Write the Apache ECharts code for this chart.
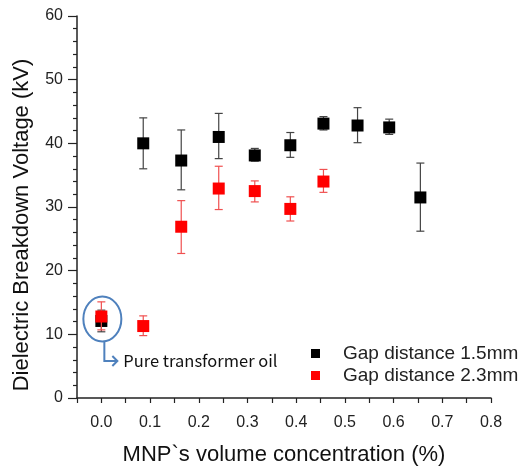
<!DOCTYPE html>
<html>
<head>
    <meta http-equiv="content-type" content="text/html;charset=utf-8" />
    <title>ECharts</title>
    <script src="https://cdn.jsdelivr.net/npm/echarts@6/dist/echarts.min.js"></script>
</head>
<body style="margin:0">
    <div id="main" style="width: 522px;height:466px;"></div>
    <script type="text/javascript">
        var myChart = echarts.init(document.getElementById('main'));

        // MNP volume concentration (%)
        var conc15 = [0.0, 0.086, 0.164, 0.241, 0.315, 0.388, 0.456, 0.526, 0.591, 0.655];
        var volt15 = [12.1, 40.0, 37.3, 41.0, 38.1, 39.7, 43.1, 42.8, 42.5, 31.5];
        var low15  = [10.4, 36.0, 32.7, 37.6, 37.2, 37.8, 42.1, 40.1, 41.4, 26.2];
        var high15 = [13.8, 44.0, 42.1, 44.7, 39.2, 41.7, 44.2, 45.6, 43.8, 36.9];

        var conc23 = [0.0, 0.086, 0.164, 0.241, 0.315, 0.388, 0.456];
        var volt23 = [12.8, 11.3, 26.9, 32.9, 32.5, 29.7, 34.0];
        var low23  = [10.7, 9.8, 22.7, 29.6, 30.8, 27.8, 32.3];
        var high23 = [15.1, 12.9, 31.0, 36.4, 34.1, 31.6, 35.9];

        var yTicks = [0, 10, 20, 30, 40, 50, 60];
        var xTicks = [0.0, 0.1, 0.2, 0.3, 0.4, 0.5, 0.6, 0.7, 0.8];

        function pts(xs, ys) {
            return xs.map(function (x, i) { return [x, ys[i]]; });
        }
        function bars(xs, lo, hi) {
            return xs.map(function (x, i) { return [x, lo[i], hi[i]]; });
        }
        function errBar(color) {
            return function (params, api) {
                var top = api.coord([api.value(0), api.value(2)]);
                var bot = api.coord([api.value(0), api.value(1)]);
                var w = 4;
                var st = { stroke: color, lineWidth: 1.2 };
                return {
                    type: 'group',
                    children: [
                        { type: 'line', shape: { x1: top[0], y1: top[1], x2: bot[0], y2: bot[1] }, style: st },
                        { type: 'line', shape: { x1: top[0] - w, y1: top[1], x2: top[0] + w, y2: top[1] }, style: st },
                        { type: 'line', shape: { x1: bot[0] - w, y1: bot[1], x2: bot[0] + w, y2: bot[1] }, style: st }
                    ]
                };
            };
        }

        var fontMain = 'Arial, "Liberation Sans", sans-serif';

        var option = {
            animation: false,
            grid: { left: 77, top: 16, right: 31, bottom: 68, outerBoundsMode: 'none' },
            legend: {
                orient: 'vertical',
                left: 306,
                top: 339,
                itemWidth: 9,
                itemHeight: 9,
                itemGap: 3,
                icon: 'rect',
                data: ['Gap distance 1.5mm', 'Gap distance 2.3mm'],
                textStyle: { fontFamily: fontMain, fontSize: 19, color: '#222', padding: [0, 0, 0, 18] }
            },
            xAxis: {
                type: 'value',
                min: -0.05,
                max: 0.8,
                interval: 0.05,
                name: 'MNP`s volume concentration (%)',
                nameLocation: 'middle',
                nameGap: 46,
                nameTextStyle: { fontFamily: fontMain, fontSize: 22, color: '#111' },
                axisLine: { show: true, onZero: false, lineStyle: { color: '#222', width: 1.5 } },
                axisTick: { show: true, inside: false, length: 5, lineStyle: { color: '#222', width: 1.2 } },
                axisLabel: {
                    margin: 17,
                    fontFamily: fontMain,
                    fontSize: 16,
                    color: '#222',
                    showMinLabel: true,
                    showMaxLabel: true,
                    formatter: function (v) {
                        for (var i = 0; i < xTicks.length; i++) {
                            if (Math.abs(v - xTicks[i]) < 1e-6) return xTicks[i].toFixed(1);
                        }
                        return '';
                    }
                },
                splitLine: { show: false }
            },
            yAxis: {
                type: 'value',
                min: yTicks[0],
                max: yTicks[yTicks.length - 1],
                interval: 10,
                name: 'Dielectric Breakdown Voltage (kV)',
                nameLocation: 'middle',
                nameGap: 44,
                nameTextStyle: { fontFamily: fontMain, fontSize: 22, color: '#111', padding: [0, 36, 0, 0] },
                axisLine: { show: true, onZero: false, lineStyle: { color: '#222', width: 1.5 } },
                axisTick: { show: true, inside: false, length: 9, lineStyle: { color: '#222', width: 1.2 } },
                minorTick: { show: true, splitNumber: 5, length: 4, lineStyle: { color: '#222', width: 1.2 } },
                axisLabel: { margin: 14, fontFamily: fontMain, fontSize: 16, color: '#222' },
                splitLine: { show: false }
            },
            series: [
                {
                    type: 'custom',
                    name: 'err15',
                    renderItem: errBar('#444'),
                    data: bars(conc15, low15, high15),
                    encode: { x: 0, y: [1, 2] },
                    z: 2
                },
                {
                    type: 'scatter',
                    name: 'Gap distance 1.5mm',
                    symbol: 'rect',
                    symbolSize: 12,
                    itemStyle: { color: '#000', opacity: 1 },
                    data: pts(conc15, volt15),
                    z: 3
                },
                {
                    type: 'custom',
                    name: 'err23',
                    renderItem: errBar('#f05050'),
                    data: bars(conc23, low23, high23),
                    encode: { x: 0, y: [1, 2] },
                    z: 4
                },
                {
                    type: 'scatter',
                    name: 'Gap distance 2.3mm',
                    symbol: 'rect',
                    symbolSize: 12,
                    itemStyle: { color: '#ff0000', opacity: 1 },
                    data: pts(conc23, volt23),
                    z: 5
                }
            ]
        };

        myChart.setOption(option);

        // annotation: circle round the pure oil points
        var c = myChart.convertToPixel({ xAxisIndex: 0, yAxisIndex: 0 }, [0, 12.4]);
        var blue = '#4f81bd';
        myChart.setOption({
            graphic: [
                { type: 'ellipse', shape: { cx: c[0] + 1, cy: c[1], rx: 19, ry: 22.5 }, style: { fill: null, stroke: blue, lineWidth: 2 }, z: 10 },
                { type: 'polyline', shape: { points: [[c[0] + 3, c[1] + 22.5], [c[0] + 3, c[1] + 42], [c[0] + 15, c[1] + 42]] }, style: { fill: null, stroke: blue, lineWidth: 2 }, z: 10 },
                { type: 'polyline', shape: { points: [[c[0] + 11, c[1] + 37], [c[0] + 16, c[1] + 42], [c[0] + 11, c[1] + 47]] }, style: { fill: null, stroke: blue, lineWidth: 2 }, z: 10 },
                { type: 'text', x: c[0] + 22, y: c[1] + 42, style: { text: 'Pure transformer oil', font: '16.5px "Noto Sans CJK KR", "Noto Sans", sans-serif', fill: '#111', verticalAlign: 'middle' }, z: 10 }
            ]
        });
    </script>
</body>
</html>
